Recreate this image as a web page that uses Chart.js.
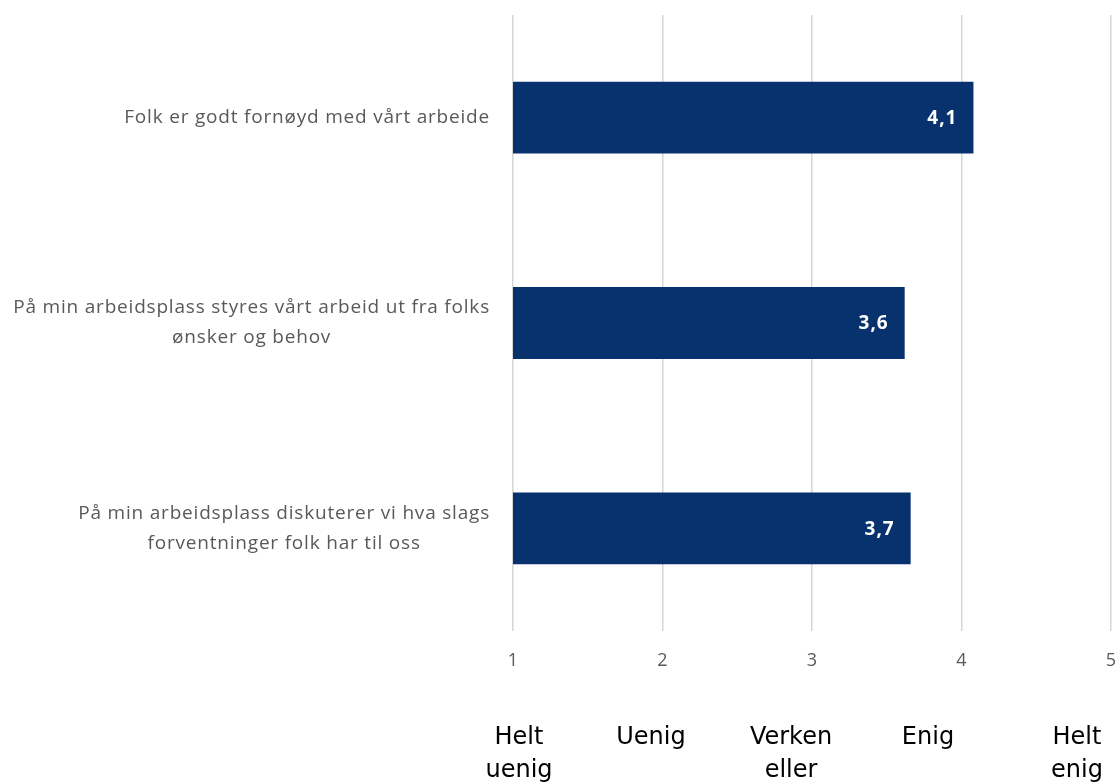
<!DOCTYPE html>
<html>
<head>
<meta charset="utf-8">
<script src="https://cdn.jsdelivr.net/npm/chart.js@4.4.1/dist/chart.umd.min.js"></script>
<style>
  html, body { margin: 0; padding: 0; background: #fff; }
  #wrap { width: 1117px; height: 782px; position: relative; }
</style>
</head>
<body>
<div id="wrap"><canvas id="chart"></canvas></div>
<script>
// data
const categories = [
  ['Folk er godt fornøyd med vårt arbeide'],
  ['På min arbeidsplass styres vårt arbeid ut fra folks', 'ønsker og behov'],
  ['På min arbeidsplass diskuterer vi hva slags', 'forventninger folk har til oss']
];
const scores = [4.08, 3.62, 3.66];
const xTicks = [1, 2, 3, 4, 5];
const scaleLabels = [['Helt', 'uenig'], ['Uenig'], ['Verken', 'eller'], ['Enig'], ['Helt', 'enig']];

// layout for the answer-scale text box under the axis
const scaleLabelCenters = [519, 651, 791, 928, 1077];

const labelFont = '19px "Open Sans"';
const grey = '#595959';
const navy = '#08326d';

const categoryLabels = {
  id: 'categoryLabels',
  afterDraw(chart) {
    const { ctx, chartArea } = chart;
    const yScale = chart.scales.y;
    const right = chartArea.left - 23;
    const lineHeight = 30;
    ctx.save();
    ctx.font = labelFont;
    ctx.letterSpacing = '0.8px';
    ctx.fillStyle = grey;
    ctx.textAlign = 'center';
    ctx.textBaseline = 'middle';
    categories.forEach((lines, i) => {
      const y = yScale.getPixelForValue(i);
      const maxW = Math.max(...lines.map((l) => ctx.measureText(l).width));
      const cx = right - maxW / 2;
      const startY = y - (lines.length - 1) * lineHeight / 2;
      lines.forEach((l, j) => ctx.fillText(l, cx, startY + j * lineHeight));
    });
    ctx.restore();
  }
};

const valueLabels = {
  id: 'valueLabels',
  afterDatasetsDraw(chart) {
    const { ctx } = chart;
    const meta = chart.getDatasetMeta(0);
    ctx.save();
    ctx.font = 'bold 19px "Open Sans"';
    ctx.letterSpacing = '1px';
    ctx.fillStyle = '#fff';
    ctx.textAlign = 'right';
    ctx.textBaseline = 'middle';
    meta.data.forEach((bar, i) => {
      const text = scores[i].toFixed(1).replace('.', ',');
      ctx.fillText(text, bar.x - 16, bar.y + 1);
    });
    ctx.restore();
  }
};

const answerScale = {
  id: 'answerScale',
  afterDraw(chart) {
    const { ctx } = chart;
    ctx.save();
    ctx.font = '24px "DejaVu Sans"';
    ctx.fillStyle = '#000';
    ctx.textAlign = 'center';
    ctx.textBaseline = 'alphabetic';
    scaleLabels.forEach((lines, i) => {
      lines.forEach((l, j) => ctx.fillText(l, scaleLabelCenters[i], 744 + j * 33));
    });
    ctx.restore();
  }
};

new Chart(document.getElementById('chart'), {
  type: 'bar',
  data: {
    labels: categories.map((c) => c.join(' ')),
    datasets: [{
      data: scores,
      backgroundColor: navy,
      borderWidth: 0,
      categoryPercentage: 1,
      barPercentage: 0.35
    }]
  },
  options: {
    indexAxis: 'y',
    responsive: true,
    maintainAspectRatio: false,
    animation: false,
    layout: { padding: { top: 15, right: 6, left: 0, bottom: 0 } },
    plugins: {
      legend: { display: false },
      tooltip: { enabled: false }
    },
    scales: {
      y: {
        ticks: { display: false },
        grid: { display: false },
        border: { display: false },
        afterFit(scale) { scale.width = 513; }
      },
      x: {
        min: 1,
        max: 5,
        afterBuildTicks(scale) { scale.ticks = xTicks.map((v) => ({ value: v })); },
        ticks: {
          color: grey,
          font: { family: 'Open Sans', size: 18 },
          padding: 19
        },
        grid: { color: '#d6d6d6', lineWidth: 1.5, drawTicks: false },
        border: { display: false },
        afterFit(scale) {
          scale.height = 151;
          scale.paddingLeft = 0;
          scale.paddingRight = 0;
        }
      }
    }
  },
  plugins: [categoryLabels, valueLabels, answerScale]
});
</script>
</body>
</html>
